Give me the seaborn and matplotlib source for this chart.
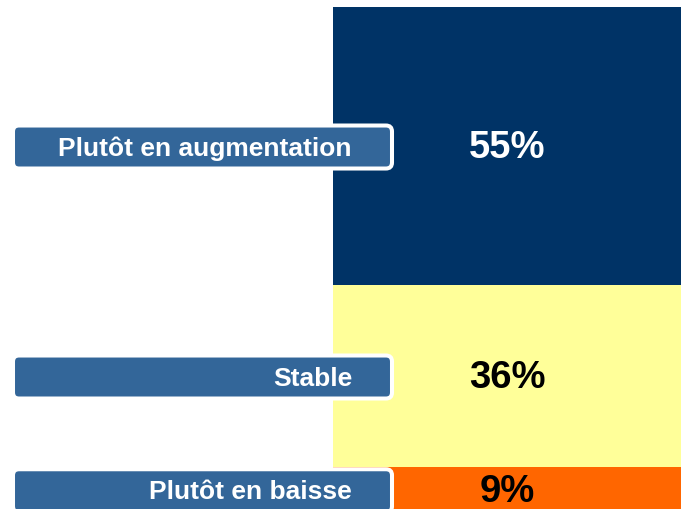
import matplotlib
matplotlib.use("Agg")
import matplotlib.pyplot as plt
from matplotlib.patches import FancyBboxPatch
import seaborn as sns
import numpy as np
import pandas as pd

categories = ["Plutôt en augmentation", "Stable", "Plutôt en baisse"]
values = [55, 36, 9]
value_labels = ["55%", "36%", "9%"]
seg_colors = ["#003366", "#FFFF99", "#FF6600"]
text_colors = ["white", "black", "black"]

sns.set_theme(style="white")
plt.rcParams["font.family"] = ["Liberation Sans", "DejaVu Sans"]

W, H = 683, 509
fig = plt.figure(figsize=(W / 100, H / 100), dpi=100)
fig.patch.set_facecolor("white")

# main axes for the stacked bar (top at 7 px, 100% reaches ~512.5 px)
top_px, bot_px = 7, 512.5
left_px, right_px = 333, 681
ax = fig.add_axes([left_px / W, 1 - bot_px / H, (right_px - left_px) / W, (bot_px - top_px) / H])
ax.set_facecolor("none")

cum = np.cumsum(values)
df = pd.DataFrame({"g": ["x"] * len(values), "cum": cum, "cat": categories})
# draw from largest cumulative to smallest so each segment stays visible
for i in range(len(values) - 1, -1, -1):
    sns.barplot(data=df.iloc[[i]], x="g", y="cum", color=seg_colors[i], width=1.0,
                saturation=1, ax=ax, linewidth=0)
ax.set_xlim(-0.5, 0.5)
ax.set_ylim(100, 0)
ax.axis("off")

starts = cum - np.array(values)
centers = starts + np.array(values) / 2
for c, lab, tc in zip(centers, value_labels, text_colors):
    ax.annotate(lab, (0, c), xytext=(0, -2), textcoords="offset pixels",
                ha="center", va="center", fontsize=27.5, fontweight="bold", color=tc)

# overlay axes in pixel units for label boxes
ov = fig.add_axes([0, 0, 1, 1], zorder=5)
ov.set_xlim(0, W)
ov.set_ylim(H, 0)
ov.axis("off")
ov.patch.set_alpha(0)

fig.canvas.draw()
for c, cat in zip(centers, categories):
    disp = ax.transData.transform((0, c))
    ypx = H - disp[1]
    bh = 43
    box = FancyBboxPatch((13, ypx - bh / 2 + 1), 379, bh,
                         boxstyle="round,pad=0,rounding_size=6",
                         facecolor="#336699", edgecolor="white", linewidth=2.9,
                         clip_on=False)
    ov.add_patch(box)
    ov.text(352, ypx + 2.5, cat, ha="right", va="center", fontsize=19,
            fontweight="bold", color="white", clip_on=False)

fig.savefig("out.png", dpi=100)
